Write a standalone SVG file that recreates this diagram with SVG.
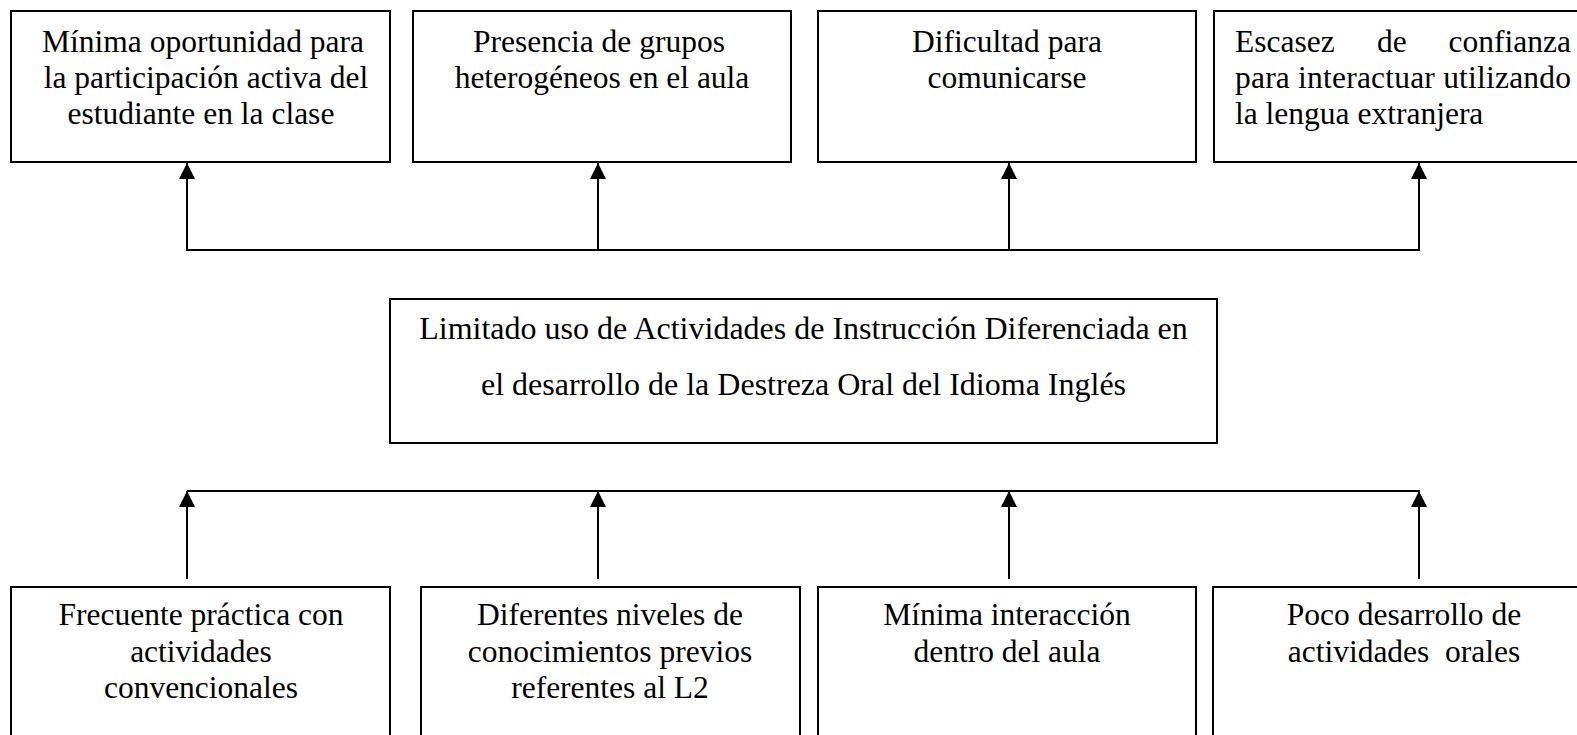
<svg xmlns="http://www.w3.org/2000/svg" width="1577" height="735" viewBox="0 0 1577 735">
<style>
.box{fill:#fff;stroke:#000;stroke-width:2}
.t{font-family:"Liberation Serif","Times New Roman",serif;font-size:31.5px;fill:#000}
.c{text-anchor:middle}
.ln{fill:none;stroke:#000;stroke-width:2}
</style>
<defs>
<marker id="ah" viewBox="0 0 16 16" refX="16" refY="8" markerWidth="16" markerHeight="16" markerUnits="userSpaceOnUse" orient="auto">
<path d="M0,0 L16,8 L0,16 z" fill="#000"/>
</marker>
</defs>
<rect width="1577" height="735" fill="#fff"/>
<g id="connectors">
<polyline class="ln" points="187,250 1420,250"/>
<line class="ln" x1="187" y1="251" x2="187" y2="163" marker-end="url(#ah)"/>
<line class="ln" x1="598" y1="251" x2="598" y2="163" marker-end="url(#ah)"/>
<line class="ln" x1="1009" y1="251" x2="1009" y2="163" marker-end="url(#ah)"/>
<line class="ln" x1="1419" y1="251" x2="1419" y2="163" marker-end="url(#ah)"/>
<polyline class="ln" points="187,491 1420,491"/>
<line class="ln" x1="187" y1="579" x2="187" y2="491" marker-end="url(#ah)"/>
<line class="ln" x1="598" y1="579" x2="598" y2="491" marker-end="url(#ah)"/>
<line class="ln" x1="1009" y1="579" x2="1009" y2="491" marker-end="url(#ah)"/>
<line class="ln" x1="1419" y1="579" x2="1419" y2="491" marker-end="url(#ah)"/>
</g>
<g id="top1">
<rect class="box" x="11" y="11" width="379" height="151"/>
<text class="t c"><tspan x="203" y="52">Mínima oportunidad para</tspan><tspan x="206" y="88">la participación activa del</tspan><tspan x="201" y="124">estudiante en la clase</tspan></text>
</g>
<g id="top2">
<rect class="box" x="413" y="11" width="378" height="151"/>
<text class="t c"><tspan x="599" y="52">Presencia de grupos</tspan><tspan x="602" y="88">heterogéneos en el aula</tspan></text>
</g>
<g id="top3">
<rect class="box" x="818" y="11" width="378" height="151"/>
<text class="t c"><tspan x="1007" y="52">Dificultad para</tspan><tspan x="1007" y="88">comunicarse</tspan></text>
</g>
<g id="top4">
<rect class="box" x="1214" y="11" width="400" height="151"/>
<text class="t"><tspan x="1235" y="52">Escasez</tspan><tspan x="1377" y="52">de</tspan><tspan x="1571" y="52" text-anchor="end">confianza</tspan><tspan x="1235" y="88" textLength="336" lengthAdjust="spacing">para interactuar utilizando</tspan><tspan x="1235" y="124">la lengua extranjera</tspan></text>
</g>
<g id="center">
<rect class="box" x="390" y="299" width="827" height="144"/>
<text class="t c" style="font-size:32px"><tspan x="803.5" y="339">Limitado uso de Actividades de Instrucción Diferenciada en</tspan><tspan x="803.5" y="395">el desarrollo de la Destreza Oral del Idioma Inglés</tspan></text>
</g>
<g id="bottom1">
<rect class="box" x="11" y="587" width="379" height="160"/>
<text class="t c"><tspan x="201" y="625">Frecuente práctica con</tspan><tspan x="201" y="662">actividades</tspan><tspan x="201" y="698">convencionales</tspan></text>
</g>
<g id="bottom2">
<rect class="box" x="421" y="587" width="379" height="160"/>
<text class="t c"><tspan x="610" y="625">Diferentes niveles de</tspan><tspan x="610" y="662">conocimientos previos</tspan><tspan x="610" y="698">referentes al L2</tspan></text>
</g>
<g id="bottom3">
<rect class="box" x="818" y="587" width="378" height="160"/>
<text class="t c"><tspan x="1007" y="625">Mínima interacción</tspan><tspan x="1007" y="662">dentro del aula</tspan></text>
</g>
<g id="bottom4">
<rect class="box" x="1213" y="587" width="400" height="160"/>
<text class="t c" xml:space="preserve"><tspan x="1404" y="625">Poco desarrollo de</tspan><tspan x="1404" y="662">actividades  orales</tspan></text>
</g>
</svg>
